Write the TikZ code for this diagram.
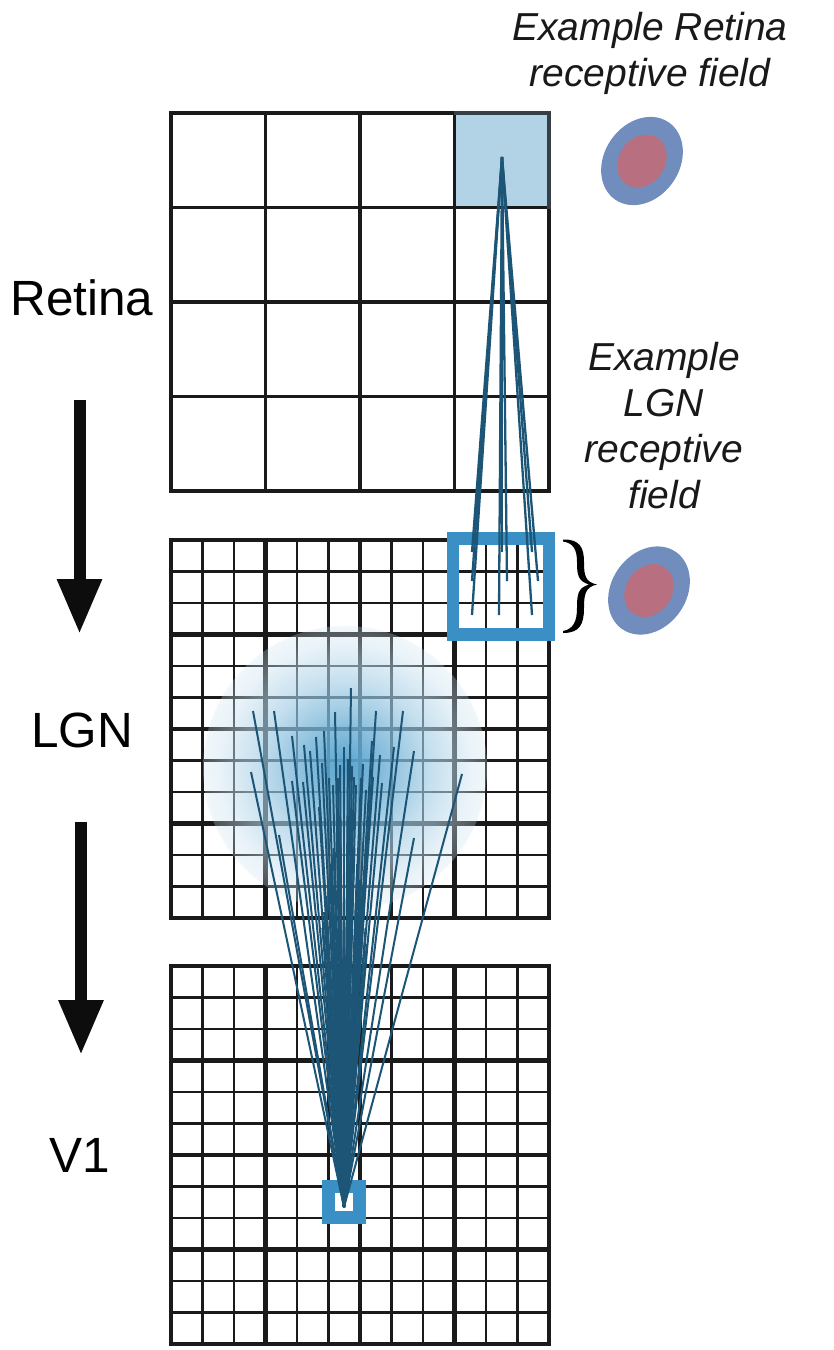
\documentclass[tikz,border=0pt]{standalone}
\usepackage{fontspec}
\setmainfont{Liberation Sans}
\usetikzlibrary{arrows.meta,fadings}
\definecolor{gridk}{HTML}{1A1A1A}
\definecolor{wire}{HTML}{1C5576}
\definecolor{sq}{HTML}{3A8FC4}
\definecolor{cellb}{HTML}{B2D2E6}
\definecolor{rfout}{HTML}{718DBE}
\definecolor{rfin}{HTML}{B87080}
\definecolor{halob}{HTML}{4A9CCB}
% stops are in fading units: the filled circle's rim falls at about 30bp
\pgfdeclareradialshading{haloshadeA}{\pgfpointorigin}{color(0bp)=(pgftransparent!8); color(7bp)=(pgftransparent!35); color(15bp)=(pgftransparent!68); color(22bp)=(pgftransparent!88); color(28bp)=(pgftransparent!97); color(30bp)=(pgftransparent!100); color(50bp)=(pgftransparent!100)}
\pgfdeclarefading{halofade}{\pgfuseshading{haloshadeA}}
\pgfdeclareradialshading{haloshadeB}{\pgfpointorigin}{color(0bp)=(pgftransparent!50); color(18bp)=(pgftransparent!55); color(25bp)=(pgftransparent!78); color(29bp)=(pgftransparent!92); color(30bp)=(pgftransparent!100); color(50bp)=(pgftransparent!100)}
\pgfdeclarefading{whitefade}{\pgfuseshading{haloshadeB}}
\tikzset{
  thinline/.style={draw=gridk,line width=2.6pt},
  thickline/.style={draw=gridk,line width=4.6pt},
  retline/.style={draw=gridk,line width=3.3pt,line cap=rect},
  wireline/.style={draw=wire,line width=2pt},
  wirefat/.style={draw=wire,line width=2.3pt},
  bigarrow/.style={draw=black!95,line width=12pt,-{Triangle[length=55pt,width=42pt]}},
  bluesq/.style={draw=sq,miter limit=10},
  layerlabel/.style={font=\fontsize{49.5}{49.5}\selectfont,text=black,inner sep=0pt},
  rflabel/.style={font=\fontsize{39}{46}\selectfont\itshape,text=black!90,align=center,inner sep=0pt},
}
\begin{document}
\begin{tikzpicture}[x=1pt,y=-1pt]
\useasboundingbox (0,0) rectangle (834,1350);
% retina cell
\fill[cellb] (456,113) rectangle (549,207);
% retina grid
\foreach \k in {0,...,4}{
  \draw[retline] ({171+94.5*\k},113) -- ({171+94.5*\k},491);
  \draw[retline] (171,{113+94.5*\k}) -- (549,{113+94.5*\k});
}
\draw[draw=black!70!cellb,line width=3.3pt,line cap=rect] (456,113) -- (549,113) -- (549,207);
% fine grids
\foreach \oy in {540,966}{
  \foreach \k in {0,...,12}{
    \pgfmathtruncatemacro{\m}{mod(\k,3)}
    \ifnum\m=0
      \draw[thickline] ({171+31.5*\k},\oy-2.3) -- ({171+31.5*\k},\oy+380.3);
      \draw[thickline] (171-2.3,{\oy+31.5*\k}) -- (549+2.3,{\oy+31.5*\k});
    \else
      \draw[thinline] ({171+31.5*\k},\oy) -- ({171+31.5*\k},\oy+378);
      \draw[thinline] (171,{\oy+31.5*\k}) -- (549,{\oy+31.5*\k});
    \fi
  }
}
% halo
\fill[white,path fading=whitefade] (345,768) circle (142);
\fill[halob,path fading=halofade] (345,768) circle (142);
% highlight squares
\draw[bluesq,line width=12.5pt] (453,538.5) rectangle (549,634.5);
\draw[bluesq,line width=13pt] (328.5,1186.5) rectangle (359.5,1217.5);
% retina to LGN wires
\coordinate (rtop) at (502,157);
\foreach \i/\x/\y in {1/472/615,2/499/615,3/532/615,4/472/581,5/507/581,6/538/581,7/472/552,8/502/552,9/532/552}{
  \coordinate (r\i) at (\x,\y);
  \draw[wirefat] (rtop) -- (r\i);
}
% LGN to V1 wires
\coordinate (vtip) at (344,1207);
\foreach \i/\x/\y in {1/253/711,2/274/711,3/251/772,4/279/835,5/292/736,6/304/745,7/310/751,8/316/737,9/324/731,10/322/763,11/292/781,12/303/782,13/319/807,14/329/778,15/333/785,16/335/712,17/338/778,18/340/765,19/344/747,20/348/759,21/351/688,22/352/766,23/354/777,24/356/785,25/361/778,26/363/764,27/366/790,28/372/741,29/373/777,30/376/711,31/380/755,32/382/783,33/394/747,34/403/711,35/414/751,36/414/838,37/462/774}{
  \coordinate (w\i) at (\x,\y);
  \draw[wireline] (w\i) -- (vtip);
}
% dense inner bundle
\foreach \i in {-16,-14,...,18}{
  \pgfmathsetmacro{\fy}{800+abs(\i)*8}
  \pgfmathsetmacro{\fx}{344+\i*(1207-\fy)/207}
  \coordinate (f\i) at (\fx,\fy);
  \draw[wireline] (f\i) -- (vtip);
}
% receptive fields
\fill[rfout,rotate around={55:(642,161)}] (642,161) ellipse (47 and 37.5);
\fill[rfin,rotate around={55:(642,161)}] (642,161) ellipse (28 and 23);
\fill[rfout,rotate around={55:(649,590.5)}] (649,590.5) ellipse (47 and 37.5);
\fill[rfin,rotate around={55:(649,590.5)}] (649,590.5) ellipse (28 and 23);
% brace
\fill[black] (563,539.5)
  .. controls (580,539) and (584,548) .. (584,562)
  .. controls (584,575) and (585,582) .. (597,584.5)
  .. controls (585,587) and (584,595) .. (584,608)
  .. controls (584,624) and (580,633) .. (563,633)
  -- (563,631)
  .. controls (573,629) and (577,622) .. (577,608)
  .. controls (577,594) and (578,588) .. (589,584.5)
  .. controls (578,581) and (577,575) .. (577,562)
  .. controls (577,549) and (573,543) .. (563,541.5) -- cycle;
% arrows
\coordinate (a1s) at (79.5,400); \coordinate (a1e) at (79.5,634);
\coordinate (a2s) at (81,822); \coordinate (a2e) at (81,1055);
\draw[bigarrow] (a1s) -- (a1e);
\draw[bigarrow] (a2s) -- (a2e);
% labels
\node[layerlabel] (retina) at (82,298) {Retina};
\node[layerlabel] (lgn) at (82,730) {LGN};
\node[layerlabel] (vone) at (80,1155) {V1};
\node[rflabel] (rrf) at (650,53) {Example Retina\\receptive field};
\node[rflabel] (lrf) at (664,426) {Example\\LGN\\receptive\\field};
\end{tikzpicture}
\end{document}
